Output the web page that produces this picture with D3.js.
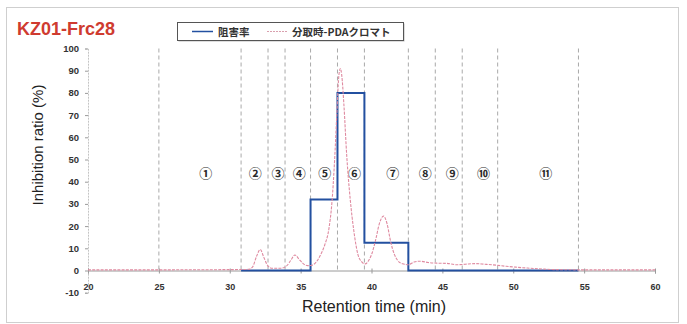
<!DOCTYPE html>
<html>
<head>
<meta charset="utf-8">
<title>KZ01-Frc28</title>
<script src="https://cdn.jsdelivr.net/npm/d3@7"></script>
<style>
    html, body {
        margin: 0;
        padding: 0;
        background-color: #fff;
        font-family: "Liberation Sans", Arial, Helvetica, sans-serif;
    }
    svg .axis path,
    svg .axis line {
        stroke: #9a9a9a;
    }
    svg .axis text {
        font-size: 9px;
        font-weight: bold;
        fill: #333;
    }
    svg .frac {
        stroke: #a9a9a9;
        stroke-dasharray: 4,3;
    }
    svg .num {
        font-family: "Noto Sans CJK JP", sans-serif;
        font-size: 13px;
        font-weight: bold;
        fill: #2a2a2a;
        text-anchor: middle;
    }
</style>
</head>
<body>
<svg></svg>
<script>
// --- data ---
var xTicks = [20, 25, 30, 35, 40, 45, 50, 55, 60];
var yTicks = [-10, 0, 10, 20, 30, 40, 50, 60, 70, 80, 90, 100];

// fraction boundaries (min)
var fracEdges = [25, 30.8, 32.7, 33.9, 35.7, 37.6, 39.5, 42.6, 44.5, 46.4, 48.9, 54.6];
var fracNames = ['①', '②', '③', '④', '⑤', '⑥', '⑦', '⑧', '⑨', '⑩', '⑪'];
var fracLabelX = [28.3, 31.8, 33.4, 34.9, 36.7, 38.8, 41.5, 43.8, 45.7, 47.9, 52.3];

// inhibition ratio per fraction, from fraction 2 onward (step)
var inhibTime = [30.8, 32.7, 33.9, 35.7, 37.6, 39.5, 42.6, 44.5, 46.4, 48.9, 54.6];
var inhibValue = [0, 0, 0, 32, 80, 12.5, 0, 0, 0, 0, 0];

// PDA chromatogram scaled onto the same axis
var pdaTime = [20, 25, 30, 31.3, 31.6, 31.9, 32.15, 32.4, 32.7, 33.0, 33.6, 34.0, 34.3, 34.6,
    34.9, 35.2, 35.5, 35.8, 36.1, 36.4, 36.7, 37.0, 37.2, 37.4, 37.55, 37.7, 37.8, 37.9, 38.05,
    38.25, 38.5, 38.75, 39.05, 39.3, 39.55, 39.8, 40.05, 40.3, 40.55, 40.85, 41.1, 41.35, 41.6,
    41.85, 42.2, 42.6, 43.0, 43.4, 44.0, 44.6, 45.3, 46.0, 46.6, 47.3, 48.0, 48.8, 49.5, 50.2,
    51.0, 52.0, 53.0, 54.6, 57, 60];
var pdaValue = [0.3, 0.3, 0.4, 0.5, 1.5, 6.5, 9.5, 6, 2, 1, 1, 2, 4.5, 7,
    5, 3, 2.2, 2.4, 3.8, 7, 11.5, 19, 30, 50, 70, 88, 91, 88, 75,
    52, 32, 18, 7, 4, 3, 4.5, 8, 14, 21, 24.5, 21, 13, 7.5,
    4.5, 3, 2.6, 3.8, 4.2, 3.6, 3.3, 3.2, 2.6, 2.8, 3.1, 2.8, 2.4, 1.9, 1.5,
    1.1, 0.7, 0.4, 0.3, 0.3, 0.3];

(function () {
    var w = 687,
        h = 324;

    var svg = d3.select('svg')
        .attr('width', w)
        .attr('height', h);

    var x = d3.scaleLinear().domain([20, 60]).range([88, 655]),
        y = d3.scaleLinear().domain([-10, 100]).range([292.7, 48.5]);

    // outer frame
    svg.append('rect')
        .attr('x', 6.5).attr('y', 7.5)
        .attr('width', 672).attr('height', 315)
        .style('fill', 'none')
        .style('stroke', '#cfcfcf');

    // title
    svg.append('text')
        .attr('x', 17).attr('y', 35)
        .style('font-size', '18px')
        .style('font-weight', 'bold')
        .style('fill', '#cf3b30')
        .text('KZ01-Frc28');

    // y axis
    var ya = svg.append('g')
        .attr('class', 'axis')
        .attr('transform', 'translate(' + x(20) + ',0)')
        .call(d3.axisLeft(y).tickValues(yTicks).tickSize(3).tickPadding(6)
            .tickFormat(function (d) { return String(d); }));
    ya.select('.domain').style('stroke', '#c4c4c4').style('stroke-dasharray', '2,1');
    ya.selectAll('text').style('font-size', '9.5px');

    // x axis at y = 0
    var xa = svg.append('g')
        .attr('class', 'axis')
        .attr('transform', 'translate(0,' + y(0) + ')')
        .call(d3.axisBottom(x).tickValues(xTicks).tickSize(3).tickPadding(10));
    xa.selectAll('.tick line').attr('y1', -2);

    // fraction boundaries
    svg.append('g').selectAll('line')
        .data(fracEdges)
        .enter().append('line')
        .attr('class', 'frac')
        .attr('x1', function (d) { return x(d); })
        .attr('x2', function (d) { return x(d); })
        .attr('y1', y(100))
        .attr('y2', y(-0.8));

    // fraction numbers
    svg.append('g').selectAll('text')
        .data(fracNames)
        .enter().append('text')
        .attr('class', 'num')
        .attr('x', function (d, i) { return x(fracLabelX[i]); })
        .attr('y', y(44) + 5)
        .text(function (d) { return d; });

    // inhibition step
    var stepLine = d3.line()
        .x(function (d) { return x(d[0]); })
        .y(function (d) { return y(d[1]); })
        .curve(d3.curveStepAfter);

    svg.append('path')
        .datum(d3.zip(inhibTime, inhibValue))
        .attr('d', stepLine)
        .style('fill', 'none')
        .style('stroke', '#2350a0')
        .style('stroke-width', 2);

    // chromatogram
    var pdaLine = d3.line()
        .x(function (d) { return x(d[0]); })
        .y(function (d) { return y(d[1]); })
        .curve(d3.curveMonotoneX);

    svg.append('path')
        .datum(d3.zip(pdaTime, pdaValue))
        .attr('d', pdaLine)
        .style('fill', 'none')
        .style('stroke', '#df8aa0')
        .style('stroke-width', 1.1)
        .style('stroke-dasharray', '3,1.2');

    // axis titles
    svg.append('text')
        .attr('transform', 'translate(43,145)rotate(-90)')
        .style('text-anchor', 'middle')
        .style('font-size', '15px')
        .style('fill', '#222')
        .text('Inhibition ratio (%)');

    svg.append('text')
        .attr('x', 374).attr('y', 312)
        .style('text-anchor', 'middle')
        .style('font-size', '16px')
        .style('fill', '#222')
        .text('Retention time  (min)');

    // legend
    var lg = svg.append('g').attr('transform', 'translate(177,22)');
    lg.append('rect')
        .attr('x', 1.5).attr('y', 1.5)
        .attr('width', 226).attr('height', 18)
        .style('fill', '#bbb');
    lg.append('rect')
        .attr('x', 0.5).attr('y', 0.5)
        .attr('width', 226).attr('height', 18)
        .style('fill', '#fff')
        .style('stroke', '#555');
    lg.append('line')
        .attr('x1', 15).attr('x2', 36).attr('y1', 9.5).attr('y2', 9.5)
        .style('stroke', '#2350a0').style('stroke-width', 1.5);
    lg.append('text')
        .attr('x', 41).attr('y', 13.5)
        .style('font-family', '"Noto Sans CJK JP", sans-serif')
        .style('font-size', '10.5px').style('font-weight', 'bold').style('fill', '#333')
        .text('阻害率');
    lg.append('line')
        .attr('x1', 90).attr('x2', 110).attr('y1', 9.5).attr('y2', 9.5)
        .style('stroke', '#d9a0ae').style('stroke-width', 1)
        .style('stroke-dasharray', '2,1');
    lg.append('text')
        .attr('x', 115).attr('y', 13.5)
        .style('font-family', '"Noto Sans CJK JP", sans-serif')
        .style('font-size', '10.5px').style('font-weight', 'bold').style('fill', '#333')
        .text('分取時-PDAクロマト');
})();
</script>
</body>
</html>
